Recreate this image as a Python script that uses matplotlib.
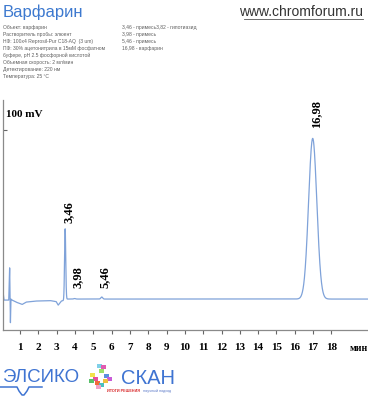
import numpy as np
import matplotlib
matplotlib.use("Agg")
import matplotlib.pyplot as plt
from matplotlib.patches import Rectangle
from matplotlib.lines import Line2D

# ---------------- data ----------------
peak_times = [3.46, 3.98, 5.46, 16.98]
peak_heights = [42.0, 0.3, 1.2, 95.0]
peak_sigmas = [0.032, 0.05, 0.05, 0.225]
peak_labels = ["3,46", "3,98", "5,46", "16,98"]
label_bottoms = [45.0, 6.5, 6.5, 101.0]

base_t = [0.05, 0.12, 0.38, 0.43, 0.47, 0.50, 0.56, 0.78, 1.11, 1.33, 1.82,
          2.64, 2.97, 3.08, 3.25, 3.40, 3.55, 19.97]
base_mv = [5.9, -0.6, -0.6, 19.0, -14.8, 0.0, -0.6, -1.8, -3.2, -1.8, -1.2,
           -0.9, -1.5, -3.6, -1.2, -0.8, 0.0, 0.0]

x_ticks = list(range(1, 19))
x_ticklabels = [str(v) for v in x_ticks]

info_left = [
    "Объект: варфарин",
    "Растворитель пробы: элюент",
    "НФ: 100x4 Reprosil-Pur C18-AQ  (3 um)",
    "ПФ: 30% ацетонитрила в 15мМ фосфатном",
    "буфере, pH 2.5 фосфорной кислотой",
    "Объемная скорость: 2 мл/мин",
    "Детектирование: 220 нм",
    "Температура: 25 °С",
]
info_right = [
    "3,46 - примесь3,82 - гипотиазид",
    "3,98 - примесь",
    "5,46 - примесь",
    "16,98 - варфарин",
]

# ---------------- figure ----------------
W, H = 368, 400
fig = plt.figure(figsize=(W / 100, H / 100), dpi=100)
fig.patch.set_facecolor("white")

def fx(px):
    return px / W

def fy(py):
    return 1 - py / H

ax = fig.add_axes([fx(3), fy(330), (W - 3) / W, (330 - 100) / H])

t = np.linspace(0.05, 19.97, 6000)
signal = np.interp(t, base_t, base_mv)
for tr, h, s in zip(peak_times, peak_heights, peak_sigmas):
    signal = signal + h * np.exp(-0.5 * ((t - tr) / s) ** 2)

ax.plot(t, signal, color="#7fa2d9", lw=0.9)

ax.set_xlim(0.066, 20.0)
ax.set_ylim(-18.3, 117.7)

for sp in ["top", "right"]:
    ax.spines[sp].set_visible(False)
for sp in ["left", "bottom"]:
    ax.spines[sp].set_color("#8a8a8a")
    ax.spines[sp].set_linewidth(0.9)

ax.set_xticks(x_ticks)
ax.set_xticklabels(x_ticklabels, fontfamily="Liberation Serif",
                   fontweight="bold", fontsize=8)
ax.tick_params(axis="x", direction="out", length=3, width=0.8,
               color="#666666", pad=6)
ax.set_yticks([100])
ax.set_yticklabels([])
ax.tick_params(axis="y", direction="in", length=3, width=0.8, color="#666666")

ax.text(0.25, 109, "100 mV", fontfamily="Liberation Serif", fontweight="bold",
        fontsize=8, va="center", ha="left")
ax.text(1.0, -0.06, "мин", transform=ax.transAxes,
        fontfamily="Liberation Serif", fontweight="bold", fontsize=7,
        ha="right", va="top")

for tr, lab, yb in zip(peak_times, peak_labels, label_bottoms):
    ax.text(tr + 0.17, yb, lab, rotation=90, ha="center", va="bottom",
            fontfamily="Liberation Serif", fontweight="bold", fontsize=9,
            clip_on=False)

# ---------------- header ----------------
fig.text(fx(3), fy(12), "Варфарин", fontfamily="Liberation Sans",
         fontsize=12, color="#3d79cf", va="center", ha="left")
fig.text(fx(363), fy(12), "www.chromforum.ru", fontfamily="Liberation Sans",
         fontsize=10, color="#333333", va="center", ha="right")
fig.add_artist(Line2D([fx(244), fx(363)], [fy(19), fy(19)], color="#555555",
                      lw=0.6))

for i, line in enumerate(info_left):
    fig.text(fx(3), fy(27 + i * 7.1), line, fontfamily="Liberation Sans",
             fontsize=3.6, color="#606060", va="center", ha="left")
for i, line in enumerate(info_right):
    fig.text(fx(122), fy(27 + i * 7.1), line, fontfamily="Liberation Sans",
             fontsize=3.6, color="#606060", va="center", ha="left")

# ---------------- footer logo ----------------
fig.text(fx(2), fy(378), "ЭЛСИКО", fontfamily="Liberation Sans",
         fontsize=13.5, color="#3f74d2", va="center", ha="left")
fig.add_artist(Line2D([fx(0), fx(17), fx(19), fx(22), fx(24), fx(27), fx(29), fx(42)],
                      [fy(387), fy(387), fy(391), fy(395), fy(395), fy(391), fy(387), fy(387)],
                      color="#3f74d2", lw=1.1))
fig.text(fx(121), fy(378), "СКАН", fontfamily="Liberation Sans",
         fontsize=14.5, color="#3f74d2", va="center", ha="left")
fig.text(fx(140), fy(391), "ИТОГИ РЕШЕНИЯ", fontfamily="Liberation Sans",
         fontsize=2.7, color="#d8282a", fontweight="bold", va="center", ha="right")
fig.text(fx(143), fy(391), "научный подход", fontfamily="Liberation Sans",
         fontsize=2.7, color="#5a78c8", va="center", ha="left")

cubes = [
    (97, 364, "#7fd0e8"), (101, 365, "#e05bb0"), (99, 369, "#9be06a"),
    (90, 373, "#f1e34a"), (93, 377, "#e94e9a"), (89, 379, "#58c06a"),
    (104, 374, "#5b8ee0"), (107, 377, "#c85bd8"), (103, 379, "#f0c040"),
    (95, 381, "#ef6b3a"), (99, 383, "#4ac0c0"), (96, 385, "#f2a0c8"),
]
for cx, cy, col in cubes:
    fig.add_artist(Rectangle((fx(cx), fy(cy + 4)), 4.5 / W, 4.5 / H,
                             facecolor=col, edgecolor="none"))

fig.savefig("out.png", dpi=100)
